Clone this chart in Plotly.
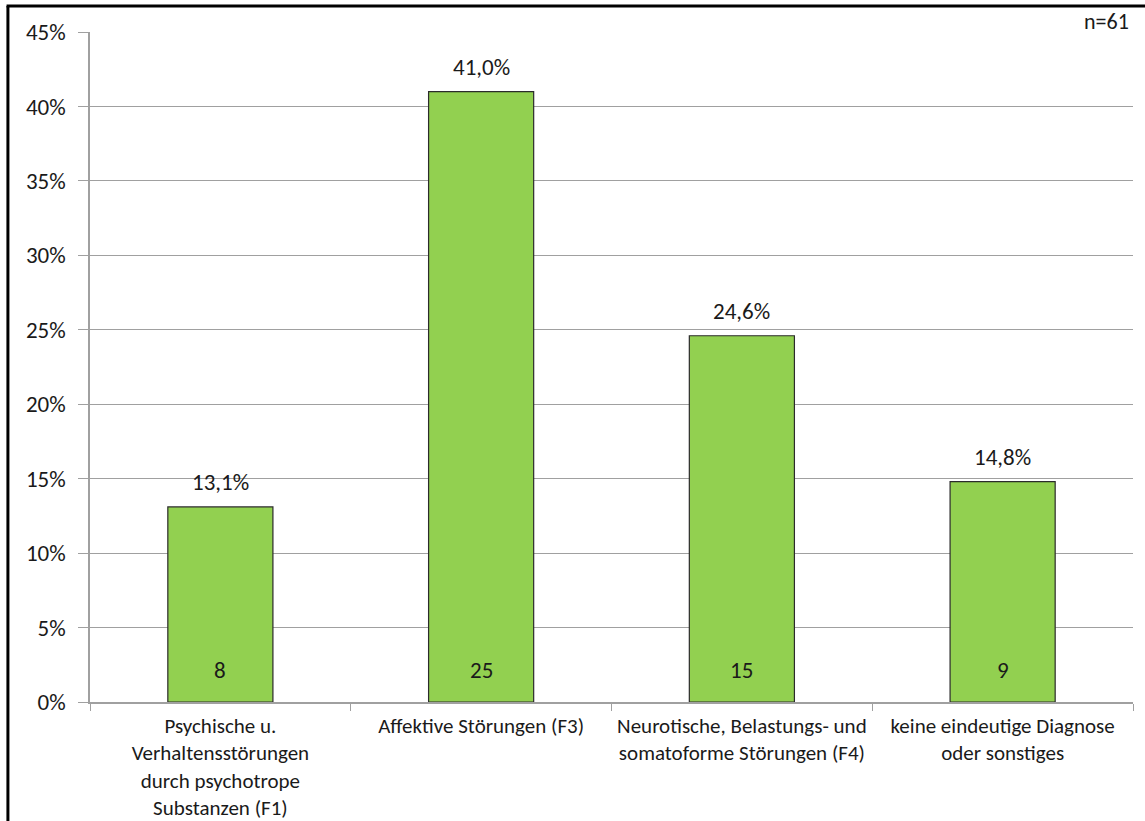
import plotly.graph_objects as go

categories = [
    "Psychische u.<br>Verhaltensstörungen<br>durch psychotrope<br>Substanzen (F1)",
    "Affektive Störungen (F3)",
    "Neurotische, Belastungs- und<br>somatoforme Störungen (F4)",
    "keine eindeutige Diagnose<br>oder sonstiges",
]
percent_values = [13.1, 41.0, 24.6, 14.8]
counts = [8, 25, 15, 9]
y_ticks = [0, 5, 10, 15, 20, 25, 30, 35, 40, 45]
n_label = "n=61"

FONT = "Carlito, Calibri, Lato, sans-serif"
TXT = "#1a1a1a"
GRID = "#a0a0a0"

fig = go.Figure()
fig.add_trace(go.Bar(
    x=categories,
    y=percent_values,
    marker=dict(color="#92d050", line=dict(color="#2b2b2b", width=1.2)),
    hoverinfo="skip",
))

for cat, v, c in zip(categories, percent_values, counts):
    fig.add_annotation(x=cat, y=v, text=f"{v:.1f}".replace(".", ",") + "%",
                       showarrow=False, yanchor="bottom", yshift=9,
                       font=dict(family=FONT, size=23, color=TXT))
    fig.add_annotation(x=cat, y=0, text=str(c), showarrow=False,
                       yanchor="middle", yshift=32,
                       font=dict(family=FONT, size=23, color=TXT))

fig.add_annotation(xref="paper", yref="paper", x=1.0, y=1.0, xanchor="right",
                   yanchor="bottom", text=n_label, showarrow=False, yshift=-5,
                   xshift=-2, font=dict(family=FONT, size=22, color=TXT))

# outer frame: top and left edges
fig.add_shape(type="line", xref="paper", yref="paper", x0=-0.08, x1=1.02,
              y0=1.0388, y1=1.0388, line=dict(color="black", width=3),
              layer="above")
fig.add_shape(type="line", xref="paper", yref="paper", x0=-0.0787, x1=-0.0787,
              y0=-0.3, y1=1.0388, line=dict(color="black", width=3),
              layer="above")

fig.update_layout(
    width=1145, height=821,
    margin=dict(l=90, r=12, t=32, b=119),
    paper_bgcolor="white", plot_bgcolor="white",
    bargap=0.597,
    showlegend=False,
    font=dict(family=FONT, size=21, color=TXT),
    xaxis=dict(
        showline=True, linecolor=GRID, linewidth=1.5,
        ticks="outside", tickson="boundaries", ticklen=7, tickcolor=GRID,
        tickfont=dict(family=FONT, size=21, color=TXT),
        showgrid=False, ticklabelstandoff=4, automargin=False,
    ),
    yaxis=dict(
        range=[0, 45], tickvals=y_ticks,
        ticktext=[f"{t}%" for t in y_ticks],
        showline=True, linecolor=GRID, linewidth=1.5,
        ticks="outside", ticklen=10, tickcolor=GRID,
        showgrid=True, gridcolor=GRID, gridwidth=1.2,
        tickfont=dict(family=FONT, size=23, color=TXT),
        zeroline=False, ticklabelstandoff=8, automargin=False,
    ),
)

fig.write_html("out.html", config={"displayModeBar": False},
               post_script="document.body.style.margin='0';")
